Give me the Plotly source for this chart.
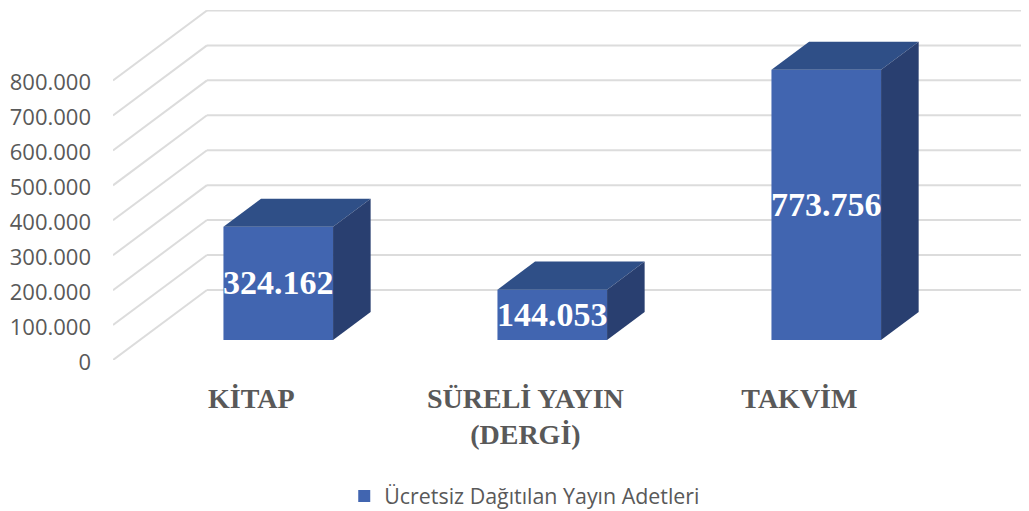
import plotly.graph_objects as go

categories = ["KİTAP", "SÜRELİ YAYIN<br>(DERGİ)", "TAKVİM"]
values = [324162, 144053, 773756]
series_name = "Ücretsiz Dağıtılan Yayın Adetleri"
y_ticks = [0, 100000, 200000, 300000, 400000, 500000, 600000, 700000, 800000]

# oblique projection: one unit of depth moves this far along each axis
DEPTH_X = 0.343
DEPTH_Y = 200600
BAR_WIDTH = 0.4
BAR_NEAR = 0.286
BAR_FAR = 0.686
X_MIN, X_MAX = -0.505, 2.838
Y_MAX = 1002000
LABEL_NUDGE = -7000

FRONT = "#4165B0"
TOP = "#2F4F87"
SIDE = "#293F70"
GRID = "#DCDCDC"
TEXT = "#595959"


def project(x, v, depth):
    return x + depth * DEPTH_X, v + depth * DEPTH_Y


def dotted(v):
    return f"{v:,}".replace(",", ".")


fig = go.Figure()

# front faces
near_x = [project(i, 0, BAR_NEAR)[0] for i in range(len(values))]
near_base = project(0, 0, BAR_NEAR)[1]
fig.add_trace(go.Bar(
    x=near_x, y=values, base=near_base, width=BAR_WIDTH, name=series_name,
    marker=dict(color=FRONT, line=dict(width=0)), hoverinfo="y+name",
    showlegend=True,
))

# top and side faces
for i, v in enumerate(values):
    l = i - BAR_WIDTH / 2
    r = i + BAR_WIDTH / 2
    a = project(l, v, BAR_NEAR)
    b = project(r, v, BAR_NEAR)
    c = project(r, v, BAR_FAR)
    d = project(l, v, BAR_FAR)
    e = project(r, 0, BAR_FAR)
    f = project(r, 0, BAR_NEAR)
    fig.add_trace(go.Scatter(
        x=[a[0], b[0], c[0], d[0], a[0]], y=[a[1], b[1], c[1], d[1], a[1]],
        fill="toself", fillcolor=TOP, mode="none", showlegend=False, hoverinfo="skip",
    ))
    fig.add_trace(go.Scatter(
        x=[b[0], c[0], e[0], f[0], b[0]], y=[b[1], c[1], e[1], f[1], b[1]],
        fill="toself", fillcolor=SIDE, mode="none", showlegend=False, hoverinfo="skip",
    ))

# data labels
fig.add_trace(go.Scatter(
    x=near_x, y=[near_base + v / 2 + LABEL_NUDGE for v in values], text=[dotted(v) for v in values],
    mode="text", textposition="middle center",
    textfont=dict(family="Liberation Serif", size=34, color="white", weight="bold"),
    showlegend=False, hoverinfo="skip",
))

# walls, below all traces
shapes = []
for t in y_ticks:
    x0, y0 = project(X_MIN, t, 0)
    x1, y1 = project(X_MIN, t, 1)
    shapes.append(dict(type="line", xref="x", yref="y", x0=x0, y0=y0, x1=x1, y1=y1,
                       layer="below", line=dict(color=GRID, width=2)))
    shapes.append(dict(type="line", xref="x", yref="y", x0=x1, y0=y1, x1=X_MAX, y1=y1,
                       layer="below", line=dict(color=GRID, width=2)))

fig.update_layout(
    width=1021, height=503,
    margin=dict(l=105, r=0, t=2, b=151, autoexpand=False),
    paper_bgcolor="white", plot_bgcolor="white",
    shapes=shapes,
    showlegend=True,
    legend=dict(orientation="h", x=0.4495, xanchor="center", y=-0.389, yanchor="middle",
                font=dict(family="Open Sans", size=21.4, color=TEXT), itemwidth=30),
    xaxis=dict(range=[X_MIN, X_MAX], tickvals=list(range(len(categories))), ticktext=categories,
               showgrid=False, zeroline=False, showline=False, ticks="", automargin=False,
               tickfont=dict(family="Liberation Serif", size=28, color=TEXT, weight="bold"),
               ticklabelstandoff=19),
    yaxis=dict(range=[0, Y_MAX], tickvals=y_ticks, ticktext=[dotted(t) for t in y_ticks],
               showgrid=False, zeroline=False, showline=False, ticks="", automargin=False,
               tickfont=dict(family="Open Sans", size=22, color=TEXT),
               ticklabelstandoff=21, ticklabelshift=2),
    font=dict(family="Open Sans"),
)

fig.write_html("out.html")
